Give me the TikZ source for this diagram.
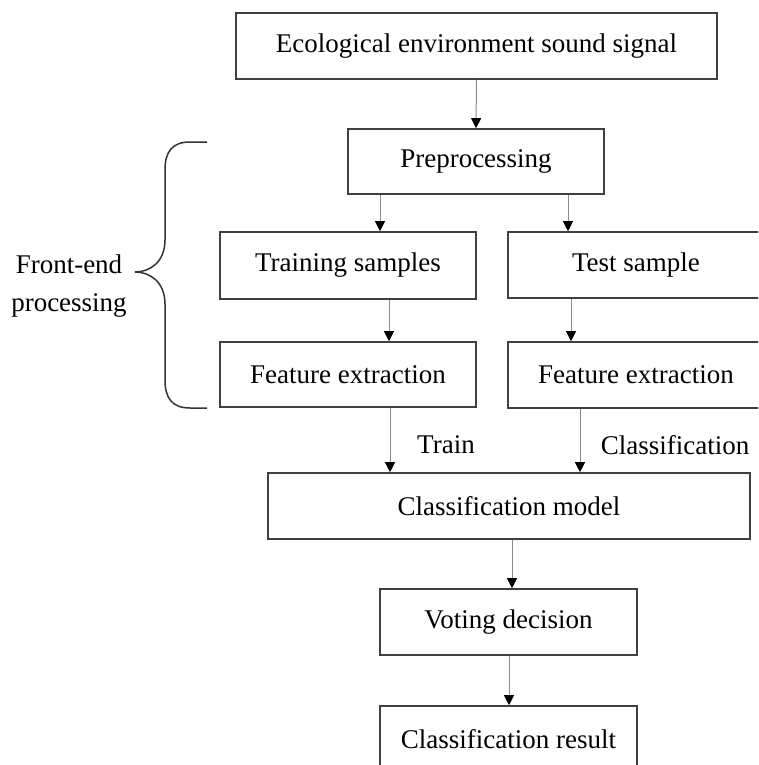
\documentclass[tikz,border=0pt]{standalone}
\usepackage{fontspec}
\setmainfont{Liberation Serif}
\usepackage{tikz}
\usetikzlibrary{arrows.meta}

\tikzset{
	box/.style={draw=black!75, line width=1.6pt, minimum height=66pt, inner sep=0pt, font=\fontsize{27}{32}\selectfont},
	flow/.style={draw=black!45, line width=1pt, -{Triangle[length=10pt,width=10pt,color=black]}},
	lbl/.style={font=\fontsize{27}{32}\selectfont}
}

\begin{document}
\begin{tikzpicture}[x=1pt,y=-1pt]
	\clip (0,0) rectangle (758,765);
	\node[box, minimum width=481pt] (sig) at (476.5,46) {Ecological environment sound signal};
	\node[box, minimum width=256pt, minimum height=65pt] (pre) at (476,161.5) {Preprocessing};
	\node[box, minimum width=256pt, minimum height=67pt] (trn) at (348,265.5) {Training samples};
	\node[box, minimum width=256pt] (tst) at (636,265) {Test sample};
	\node[box, minimum width=256pt, minimum height=65pt] (fea1) at (348,374.5) {Feature extraction};
	\node[box, minimum width=256pt] (fea2) at (636,375) {Feature extraction};
	\node[box, minimum width=482pt] (model) at (509,506) {Classification model};
	\node[box, minimum width=257pt] (vote) at (508.5,622) {Voting decision};
	\node[box, minimum width=257pt] (res) at (508.5,739) {Classification result};
	% arrows
	\draw[flow] (sig.south) -- (pre.north);
	\draw[flow] (pre.south -| 380,0) -- (trn.north -| 380,0);
	\draw[flow] (pre.south -| 568,0) -- (tst.north -| 568,0);
	\draw[flow] (trn.south -| 389,0) -- (fea1.north -| 389,0);
	\draw[flow] (tst.south -| 571,0) -- (fea2.north -| 571,0);
	\draw[flow] (fea1.south -| 390,0) -- (model.north -| 390,0);
	\draw[flow] (fea2.south -| 580,0) -- (model.north -| 580,0);
	\draw[flow] (model.south -| 512,0) -- (vote.north -| 512,0);
	\draw[flow] (vote.south -| 509,0) -- (res.north -| 509,0);
	\node[lbl] (train) at (446,445) {Train};
	\node[lbl] (cls) at (675,445) {Classification};
	% brace
	\draw[black!80, line width=1.5pt] (207,142) -- (190,142) .. controls (172,142) and (165,152) .. (165,170) -- (165,240) .. controls (165,262) and (150,272) .. (135,272) .. controls (150,272) and (165,282) .. (165,304) -- (165,380) .. controls (165,398) and (172,408) .. (190,408) -- (207,408);
	\node[lbl, align=center, font=\fontsize{27}{38}\selectfont] (front) at (69,286) {Front-end\\processing};
\end{tikzpicture}
\end{document}
